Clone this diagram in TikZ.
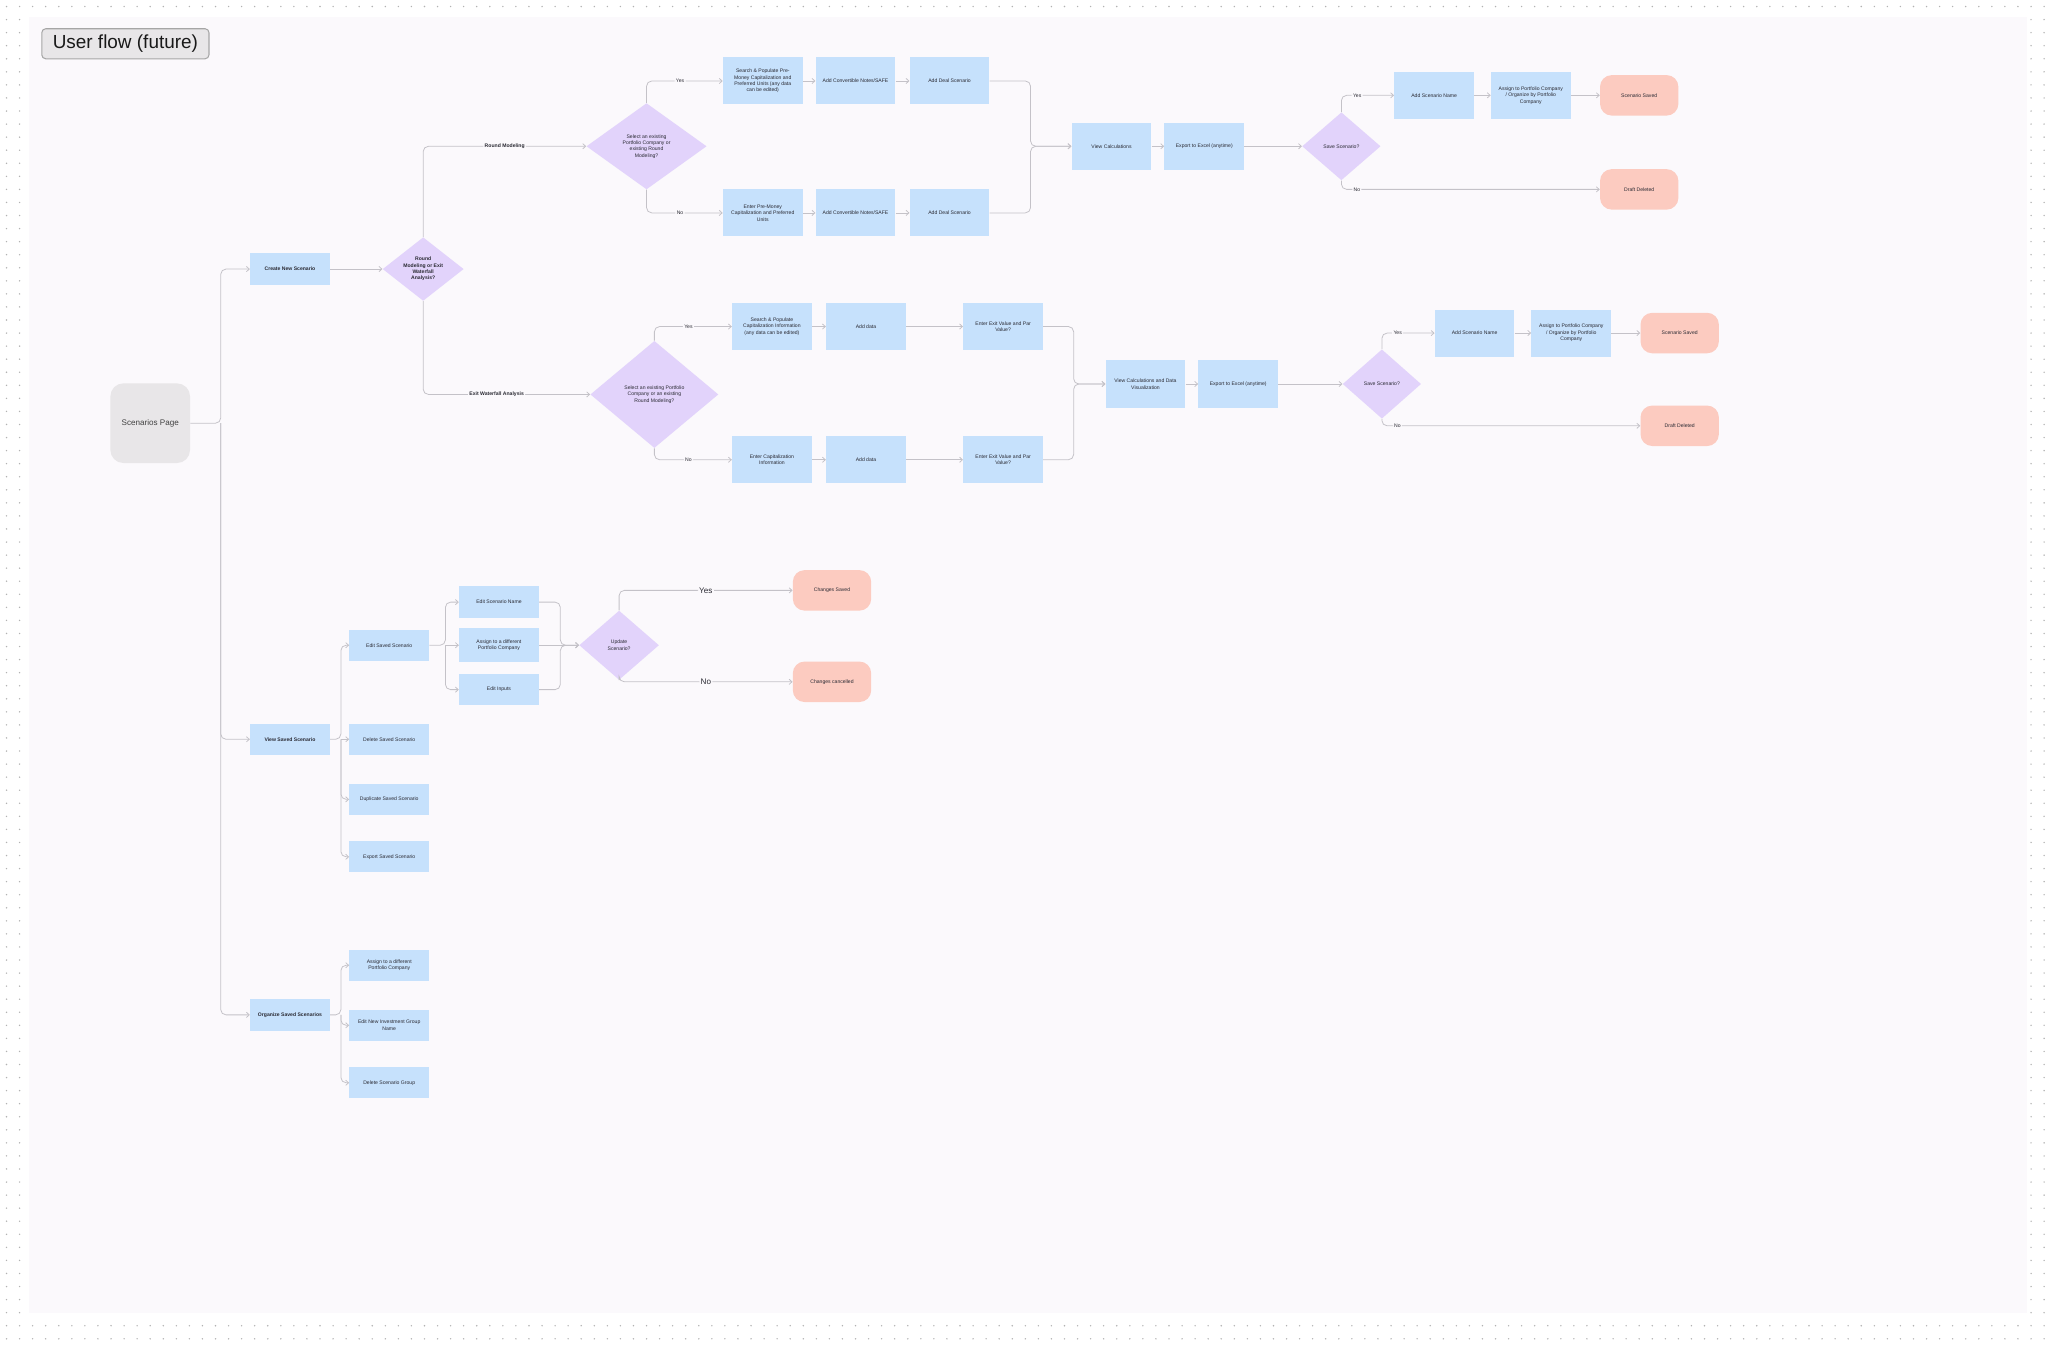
\documentclass[tikz,border=0pt]{standalone}
\usepackage{fontspec}
\setmainfont{Liberation Sans}
\usetikzlibrary{shapes.geometric,arrows.meta}
\definecolor{bx}{HTML}{C6E1FC}
\definecolor{dm}{HTML}{E2D3FB}
\definecolor{tm}{HTML}{FCCBC0}
\definecolor{pg}{HTML}{E8E6E8}
\definecolor{bg}{HTML}{FBF9FC}
\definecolor{ln}{HTML}{C4C2C8}
\definecolor{tx}{HTML}{2A2A33}
\tikzset{
  box/.style={rectangle,fill=bx,minimum width=61pt,minimum height=36pt,inner sep=1pt,align=center,font=\fontsize{3.9}{4.9}\selectfont,text=tx},
  sbox/.style={box,minimum height=24pt},
  dia/.style={diamond,fill=dm,inner sep=0pt,align=center,font=\fontsize{3.9}{4.9}\selectfont,text=tx},
  term/.style={rectangle,rounded corners=9pt,fill=tm,minimum width=60pt,minimum height=31pt,align=center,font=\fontsize{3.9}{4.9}\selectfont,text=tx},
  conn/.style={draw=ln,line width=0.6pt,rounded corners=4pt,-{Straight Barb[length=2.2pt,width=4pt]}},
  lbl/.style={fill=bg,inner sep=1pt,font=\fontsize{3.9}{4.9}\selectfont,text=tx},
  blbl/.style={lbl,font=\fontsize{3.9}{4.9}\selectfont\bfseries},
}
\begin{document}
\begin{tikzpicture}[x=1pt,y=-1pt]
\useasboundingbox (0,0) rectangle (1568,1030);
\fill[white] (0,0) rectangle (1568,1030);
% dots outside panel
\foreach \x in {5,15,...,1565}{\foreach \y in {5}{\fill[black!30] (\x,\y) circle (0.6);}
  \foreach \y in {1015,1025}{\fill[black!30] (\x,\y) circle (0.6);}}
\foreach \y in {15,25,...,1005}{\foreach \x in {5,15}{\fill[black!30] (\x,\y) circle (0.6);}
  \foreach \x in {1555,1565}{\fill[black!30] (\x,\y) circle (0.6);}}
\fill[bg] (22,13) rectangle (1552,1005);
% title
\node[draw=black!35,fill=pg,rounded corners=3pt,line width=0.8pt,minimum width=128pt,minimum height=23pt,inner xsep=4pt,font=\fontsize{14.5}{16}\selectfont,text=black!90] (title) at (96,33.5) {User flow (future)};

% main
\node[rectangle,rounded corners=10pt,fill=pg,minimum width=61pt,minimum height=61pt,font=\fontsize{6.2}{7}\selectfont,text=black!75] (sp) at (115,324) {Scenarios Page};
\node[sbox,font=\fontsize{3.9}{4.9}\selectfont\bfseries] (cns) at (222,206) {Create New Scenario};
\node[sbox,font=\fontsize{3.9}{4.9}\selectfont\bfseries] (vss) at (222,566) {View Saved Scenario};
\node[sbox,font=\fontsize{3.9}{4.9}\selectfont\bfseries] (oss) at (222,777) {Organize Saved Scenarios};
\coordinate (j0) at (169,324);
\draw[conn] (sp.east) -- (j0) |- (cns.west);
\draw[conn] (j0) |- (vss.west);
\draw[conn] (j0) |- (oss.west);

\node[dia,minimum width=62pt,minimum height=48pt,font=\fontsize{3.9}{4.9}\selectfont\bfseries] (d1) at (324,206) {Round\\Modeling or Exit\\Waterfall\\Analysis?};
\draw[conn] (cns.east) -- (d1.west);

% round modeling
\node[dia,minimum width=92pt,minimum height=66pt] (d2) at (495,112) {Select an existing\\Portfolio Company or\\existing Round\\Modeling?};
\draw[conn] (d1.north) |- node[blbl,pos=0.75]{Round Modeling} (d2.west);
\node[box] (a1) at (584,62) {Search \& Populate Pre-\\Money Capitalization and\\Preferred Units (any data\\can be edited)};
\node[box] (a2) at (655,62) {Add Convertible Notes/SAFE};
\node[box] (a3) at (727,62) {Add Deal Scenario};
\node[box] (b1) at (584,163) {Enter Pre-Money\\Capitalization and Preferred\\Units};
\node[box] (b2) at (655,163) {Add Convertible Notes/SAFE};
\node[box] (b3) at (727,163) {Add Deal Scenario};
\draw[conn] (d2.north) |- node[lbl,pos=0.72]{Yes} (a1.west);
\draw[conn] (d2.south) |- node[lbl,pos=0.72]{No} (b1.west);
\draw[conn] (a1) -- (a2); \draw[conn] (a2) -- (a3);
\draw[conn] (b1) -- (b2); \draw[conn] (b2) -- (b3);
\node[box] (vc) at (851,112) {View Calculations};
\node[box] (ex) at (922,112) {Export to Excel (anytime)};
\coordinate (m1) at (789,112);
\draw[conn] (a3.east) -| (m1) -- (vc.west);
\draw[conn] (b3.east) -| (m1) -- (vc.west);
\draw[conn] (vc) -- (ex);
\node[dia,minimum width=60pt,minimum height=52pt] (s1) at (1027,112) {Save Scenario?};
\draw[conn] (ex) -- (s1);
\node[box] (n1) at (1098,73) {Add Scenario Name};
\node[box] (g1) at (1172,73) {Assign to Portfolio Company\\/ Organize by Portfolio\\Company};
\node[term] (ss1) at (1255,73) {Scenario Saved};
\node[term] (dd1) at (1255,145) {Draft Deleted};
\draw[conn] (s1.north) |- node[lbl,pos=0.65]{Yes} (n1.west);
\draw[conn] (n1) -- (g1); \draw[conn] (g1) -- (ss1);
\draw[conn] (s1.south) |- node[lbl,pos=0.53]{No} (dd1.west);

% exit waterfall
\node[dia,minimum width=98pt,minimum height=82pt] (d3) at (501,302) {Select an existing Portfolio\\Company or an existing\\Round Modeling?};
\draw[conn] (d1.south) |- node[blbl,pos=0.72]{Exit Waterfall Analysis} (d3.west);
\node[box] (c1) at (591,250) {Search \& Populate\\Capitalization Information\\(any data can be edited)};
\node[box] (c2) at (663,250) {Add data};
\node[box] (c3) at (768,250) {Enter Exit Value and Par\\Value?};
\node[box] (e1) at (591,352) {Enter Capitalization\\Information};
\node[box] (e2) at (663,352) {Add data};
\node[box] (e3) at (768,352) {Enter Exit Value and Par\\Value?};
\draw[conn] (d3.north) |- node[lbl,pos=0.72]{Yes} (c1.west);
\draw[conn] (d3.south) |- node[lbl,pos=0.72]{No} (e1.west);
\draw[conn] (c1) -- (c2); \draw[conn] (c2) -- (c3);
\draw[conn] (e1) -- (e2); \draw[conn] (e2) -- (e3);
\node[box] (vd) at (877,294) {View Calculations and Data\\Visualization};
\node[box] (ex2) at (948,294) {Export to Excel (anytime)};
\coordinate (m2) at (822,294);
\draw[conn] (c3.east) -| (m2) -- (vd.west);
\draw[conn] (e3.east) -| (m2) -- (vd.west);
\draw[conn] (vd) -- (ex2);
\node[dia,minimum width=60pt,minimum height=53pt] (s2) at (1058,294) {Save Scenario?};
\draw[conn] (ex2) -- (s2);
\node[box] (n2) at (1129,255) {Add Scenario Name};
\node[box] (g2) at (1203,255) {Assign to Portfolio Company\\/ Organize by Portfolio\\Company};
\node[term] (ss2) at (1286,255) {Scenario Saved};
\node[term] (dd2) at (1286,326) {Draft Deleted};
\draw[conn] (s2.north) |- node[lbl,pos=0.65]{Yes} (n2.west);
\draw[conn] (n2) -- (g2); \draw[conn] (g2) -- (ss2);
\draw[conn] (s2.south) |- node[lbl,pos=0.53]{No} (dd2.west);

% view saved
\node[sbox] (es) at (298,494) {Edit Saved Scenario};
\node[sbox] (ds) at (298,566) {Delete Saved Scenario};
\node[sbox] (dus) at (298,612) {Duplicate Saved Scenario};
\node[sbox] (xs) at (298,656) {Export Saved Scenario};
\coordinate (j1) at (261,566);
\draw[conn] (vss.east) -- (j1) |- (es.west);
\draw[conn] (j1) -- (ds.west);
\draw[conn] (j1) |- (dus.west);
\draw[conn] (j1) |- (xs.west);
\node[sbox] (en) at (382,461) {Edit Scenario Name};
\node[sbox,minimum height=26pt] (ap) at (382,494) {Assign to a different\\Portfolio Company};
\node[sbox] (ei) at (382,528) {Edit Inputs};
\coordinate (j2) at (341,494);
\draw[conn] (es.east) -- (j2) |- (en.west);
\draw[conn] (j2) -- (ap.west);
\draw[conn] (j2) |- (ei.west);
\node[dia,minimum width=61pt,minimum height=53pt] (ud) at (474,494) {Update\\Scenario?};
\coordinate (m3) at (429,494);
\draw[conn] (en.east) -| (m3) -- (ud.west);
\draw[conn] (ap.east) -- (ud.west);
\draw[conn] (ei.east) -| (m3) -- (ud.west);
\node[term] (cs) at (637,452) {Changes Saved};
\node[term] (cc) at (637,522) {Changes cancelled};
\draw[conn] (ud.north) |- node[lbl,pos=0.75,font=\fontsize{6.2}{7}\selectfont]{Yes} (cs.west);
\draw[conn] (ud.south) |- node[lbl,pos=0.75,font=\fontsize{6.2}{7}\selectfont]{No} (cc.west);

% organize
\node[sbox] (oa) at (298,739) {Assign to a different\\Portfolio Company};
\node[sbox] (oe) at (298,785) {Edit New Investment Group\\Name};
\node[sbox] (od) at (298,829) {Delete Scenario Group};
\coordinate (j3) at (261,777);
\draw[conn] (oss.east) -- (j3) |- (oa.west);
\draw[conn] (j3) |- (oe.west);
\draw[conn] (j3) |- (od.west);
\end{tikzpicture}
\end{document}
